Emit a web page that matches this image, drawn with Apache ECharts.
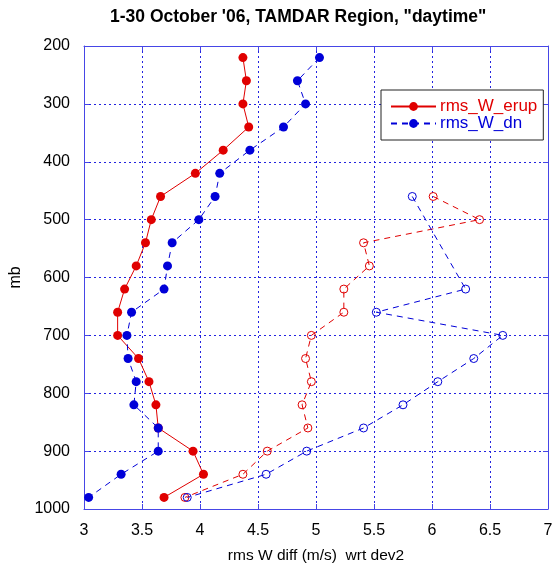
<!DOCTYPE html>
<html>
<head>
<meta charset="utf-8">
<script src="https://cdn.jsdelivr.net/npm/echarts@6/dist/echarts.min.js"></script>
<style>
html,body{margin:0;padding:0;background:#fff;}
#chart{width:554px;height:563px;}
</style>
</head>
<body>
<div id="chart"></div>
<script>
// ---- data ----
const titleText = '1-30 October \'06, TAMDAR Region, "daytime"';
const xAxisName = 'rms W diff (m/s)  wrt dev2';
const yAxisName = 'mb';
const xTicks = [3, 3.5, 4, 4.5, 5, 5.5, 6, 6.5, 7];
const yTicks = [200, 300, 400, 500, 600, 700, 800, 900, 1000];
const levels = [220, 260, 300, 340, 380, 420, 460, 500, 540, 580, 620, 660, 700, 740, 780, 820, 860, 900, 940, 980];
const erupFilled = [4.37, 4.40, 4.37, 4.42, 4.20, 3.96, 3.66, 3.58, 3.53, 3.45, 3.35, 3.29, 3.29, 3.47, 3.56, 3.62, 3.64, 3.94, 4.03, 3.69];
const dnFilled   = [5.03, 4.84, 4.91, 4.72, 4.43, 4.17, 4.13, 3.99, 3.76, 3.72, 3.69, 3.41, 3.37, 3.38, 3.45, 3.43, 3.64, 3.64, 3.32, 3.04];
const erupOpen   = [null, null, null, null, null, null, 6.01, 6.41, 5.41, 5.46, 5.24, 5.24, 4.96, 4.91, 4.96, 4.88, 4.93, 4.58, 4.37, 3.87];
const dnOpen     = [null, null, null, null, null, null, 5.83, null, null, null, 6.29, 5.52, 6.61, 6.36, 6.05, 5.75, 5.41, 4.92, 4.57, 3.89];
const seriesNames = ['rms_W_erup', 'rms_W_dn'];

// ---- styling ----
const RED = '#e00000';
const BLUE = '#0000d8';
const FRAME = '#4646e6';
const GRIDC = '#2222e0';
const FONT = '"Liberation Sans", Arial, sans-serif';

function pairs(xs) {
  const out = [];
  xs.forEach((v, i) => { if (v !== null) out.push([v, levels[i]]); });
  return out;
}

const chart = echarts.init(document.getElementById('chart'), null, {renderer: 'canvas'});

const xMin = xTicks[0], xMax = xTicks[xTicks.length - 1], xInt = xTicks[1] - xTicks[0];
const yMin = yTicks[0], yMax = yTicks[yTicks.length - 1], yInt = yTicks[1] - yTicks[0];

const baseAxisLine = {show: true, lineStyle: {color: FRAME, width: 1}};
const baseTick = {show: true, inside: true, length: 5, lineStyle: {color: FRAME, width: 1}};

chart.setOption({
  animation: false,
  backgroundColor: '#ffffff',
  textStyle: {fontFamily: FONT},
  title: {
    text: titleText,
    left: 105,
    top: 3,
    textStyle: {fontFamily: FONT, fontSize: 17.5, fontWeight: 'bold', color: '#000'}
  },
  legend: {
    data: [
      {name: seriesNames[0], textStyle: {color: RED}},
      {name: seriesNames[1], textStyle: {color: BLUE}}
    ],
    orient: 'vertical',
    left: 381,
    top: 90,
    padding: [8, 6, 8, 9],
    itemGap: 0,
    itemWidth: 45,
    itemHeight: 11,
    backgroundColor: '#ffffff',
    borderColor: '#222',
    borderWidth: 1,
    borderRadius: 0,
    textStyle: {fontFamily: FONT, fontSize: 17, padding: [0, 0, 0, -1]}
  },
  grid: {left: 84, right: 6, top: 46, bottom: 54, containLabel: false, outerBoundsMode: 'none'},
  xAxis: [
    {
      type: 'value', position: 'bottom', min: xMin, max: xMax, interval: xInt,
      name: xAxisName, nameLocation: 'middle', nameGap: 39,
      nameTextStyle: {fontFamily: FONT, fontSize: 15.5, color: '#000'},
      axisLine: baseAxisLine, axisTick: baseTick,
      axisLabel: {color: '#000', fontFamily: FONT, fontSize: 16, margin: 14, formatter: v => String(v)},
      splitLine: {show: true, lineStyle: {color: GRIDC, width: 1, type: [2, 3]}}
    },
    {
      type: 'value', position: 'top', min: xMin, max: xMax, interval: xInt,
      axisLine: baseAxisLine, axisTick: baseTick,
      axisLabel: {show: false}, splitLine: {show: false}
    }
  ],
  yAxis: [
    {
      type: 'value', position: 'left', inverse: true, min: yMin, max: yMax, interval: yInt,
      name: yAxisName, nameLocation: 'middle', nameGap: 47, nameRotate: 90,
      nameTextStyle: {fontFamily: FONT, fontSize: 16, color: '#000'},
      axisLine: baseAxisLine, axisTick: baseTick,
      axisLabel: {color: '#000', fontFamily: FONT, fontSize: 16, margin: 14, formatter: v => String(v)},
      splitLine: {show: true, lineStyle: {color: GRIDC, width: 1, type: [2, 3]}}
    },
    {
      type: 'value', position: 'right', inverse: true, min: yMin, max: yMax, interval: yInt,
      axisLine: baseAxisLine, axisTick: baseTick,
      axisLabel: {show: false}, splitLine: {show: false}
    }
  ],
  series: [
    {
      name: seriesNames[0] + ' (2)', type: 'line', data: pairs(erupOpen),
      symbol: 'circle', symbolSize: 8,
      itemStyle: {color: 'rgba(0,0,0,0)', borderColor: RED, borderWidth: 1},
      lineStyle: {color: RED, width: 1, type: [6, 5]},
      legendHoverLink: false, z: 3
    },
    {
      name: seriesNames[1] + ' (2)', type: 'line', data: pairs(dnOpen),
      symbol: 'circle', symbolSize: 8,
      itemStyle: {color: 'rgba(0,0,0,0)', borderColor: BLUE, borderWidth: 1},
      lineStyle: {color: BLUE, width: 1, type: [6, 5]},
      legendHoverLink: false, z: 4
    },
    {
      name: seriesNames[0], type: 'line', data: pairs(erupFilled),
      symbol: 'circle', symbolSize: 9,
      itemStyle: {color: RED, borderWidth: 0},
      lineStyle: {color: RED, width: 1, type: 'solid'},
      z: 5
    },
    {
      name: seriesNames[1], type: 'line', data: pairs(dnFilled),
      symbol: 'circle', symbolSize: 9,
      itemStyle: {color: BLUE, borderWidth: 0},
      lineStyle: {color: BLUE, width: 1, type: [6, 5]},
      z: 6
    }
  ]
});
</script>
</body>
</html>
